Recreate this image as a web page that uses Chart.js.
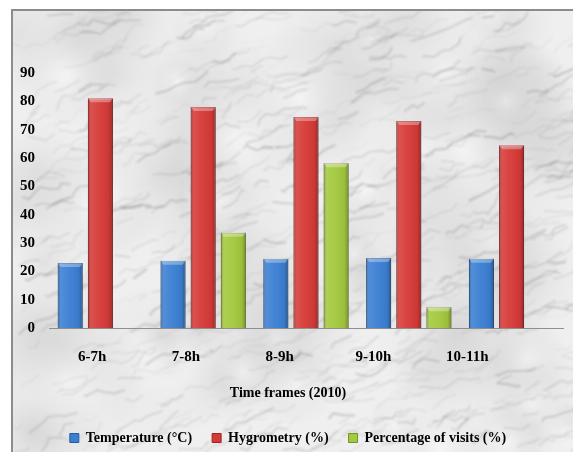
<!DOCTYPE html>
<html>
<head>
<meta charset="utf-8">
<script src="https://cdn.jsdelivr.net/npm/chart.js@4"></script>
<style>
  html, body { margin: 0; padding: 0; background: #fff; }
  body { width: 573px; height: 452px; overflow: hidden; position: relative; }
  #frame {
    position: absolute; left: 11px; top: 9px; width: 562px; height: 443px;
    box-sizing: border-box; border-top: 2px solid #8c8c8c; border-left: 2px solid #8c8c8c;
    overflow: hidden; background-color: #ececec;
  }
  #visitsChart { position: absolute; left: 0; top: 0; }
</style>
</head>
<body>
<div id="frame"><canvas id="visitsChart" width="560" height="444"></canvas></div>
<script>
const timeFrames = ['6-7h', '7-8h', '8-9h', '9-10h', '10-11h'];
const temperature = [23, 23.8, 24.5, 24.8, 24.5];
const hygrometry = [81.1, 78, 74.5, 73.1, 64.5];
const visits = [0, 33.7, 58.2, 7.4, 0];
const yTicks = [0, 90, 10]; // min, max, step

// grey marble look for the background (seeded so it is the same every time)
function marble(w, h) {
    const c = document.createElement('canvas');
    c.width = w; c.height = h;
    const g = c.getContext('2d');
    let s = 12345;
    const rnd = () => { s = (s * 16807) % 2147483647; return s / 2147483647; };
    g.fillStyle = '#efefef';
    g.fillRect(0, 0, w, h);
    for (let i = 0; i < 90; i++) {
        const x = rnd() * w, y = rnd() * h, r = 20 + rnd() * 60;
        const rg = g.createRadialGradient(x, y, 0, x, y, r);
        const light = rnd() < 0.4;
        rg.addColorStop(0, light ? 'rgba(255,255,255,0.5)' : 'rgba(185,185,185,0.25)');
        rg.addColorStop(1, 'rgba(200,200,200,0)');
        g.fillStyle = rg;
        g.fillRect(x - r, y - r, 2 * r, 2 * r);
    }
    g.filter = 'blur(0.8px)';
    for (let i = 0; i < 650; i++) {
        let x = rnd() * w, y = rnd() * h;
        g.beginPath();
        g.moveTo(x, y);
        const n = 2 + Math.floor(rnd() * 6);
        for (let j = 0; j < n; j++) {
            x += 2 + rnd() * 10;
            y -= rnd() * 10 - 2.5;
            g.lineTo(x, y);
        }
        g.strokeStyle = 'rgba(100,100,100,' + (0.05 + rnd() * 0.22).toFixed(2) + ')';
        g.lineWidth = 0.5 + rnd() * 1.8;
        g.stroke();
    }
    return c.toDataURL();
}
document.getElementById('frame').style.backgroundImage = 'url(' + marble(562, 443) + ')';

// bevel / shading drawn over each bar, Excel style
const bevelPlugin = {
    id: 'bevel',
    afterDatasetsDraw(chart) {
        const ctx = chart.ctx;
        chart.data.datasets.forEach((ds, i) => {
            chart.getDatasetMeta(i).data.forEach(bar => {
                const { x, y, base, width } = bar.getProps(['x', 'y', 'base', 'width'], true);
                const h = base - y;
                if (h < 1) return;
                const l = x - width / 2;
                const gr = ctx.createLinearGradient(l, 0, l + width, 0);
                gr.addColorStop(0, 'rgba(0,0,0,0.28)');
                gr.addColorStop(0.12, 'rgba(255,255,255,0.12)');
                gr.addColorStop(0.45, 'rgba(255,255,255,0.04)');
                gr.addColorStop(0.85, 'rgba(0,0,0,0.06)');
                gr.addColorStop(1, 'rgba(0,0,0,0.32)');
                ctx.save();
                ctx.fillStyle = gr;
                ctx.fillRect(l, y, width, h);
                ctx.fillStyle = 'rgba(255,255,255,0.32)';
                ctx.beginPath();
                ctx.moveTo(l, y);
                ctx.lineTo(l + width, y);
                ctx.lineTo(l + width - 3, y + 4);
                ctx.lineTo(l + 3, y + 4);
                ctx.closePath();
                ctx.fill();
                ctx.restore();
            });
        });
    }
};

const serif = 'Liberation Serif';

new Chart(document.getElementById('visitsChart'), {
    type: 'bar',
    data: {
        labels: timeFrames,
        datasets: [
            { label: 'Temperature (°C)', data: temperature, backgroundColor: '#3b7fd3', borderColor: '#2a5b9a' },
            { label: 'Hygrometry (%)', data: hygrometry, backgroundColor: '#d63a37', borderColor: '#9a2625' },
            { label: 'Percentage of visits (%)', data: visits, backgroundColor: '#a3c93d', borderColor: '#75922a' }
        ]
    },
    options: {
        responsive: false,
        animation: false,
        datasets: {
            bar: { barPercentage: 0.83, categoryPercentage: 0.88, borderWidth: 1 }
        },
        layout: { padding: { top: 62, right: 10, left: 0, bottom: 0 } },
        plugins: {
            legend: {
                position: 'bottom',
                weight: 1000,
                labels: {
                    color: '#000',
                    font: { family: serif, size: 14, weight: 'bold' },
                    boxWidth: 9,
                    boxHeight: 9,
                    padding: 20
                }
            },
            title: {
                display: true,
                position: 'bottom',
                weight: 500,
                text: 'Time frames (2010)',
                color: '#000',
                font: { family: serif, size: 14, weight: 'bold' },
                padding: { top: 17, bottom: 9 }
            },
            tooltip: { enabled: false }
        },
        scales: {
            x: {
                weight: 0,
                grid: { display: false, drawTicks: false },
                border: { display: true, color: '#8f8f8f', width: 1 },
                ticks: { display: false },
                afterFit(scale) { scale.height = 0; }
            },
            // the labels in the original sit a little left of the bar groups,
            // so they go on their own axis with a slightly tighter spacing
            xLabels: {
                type: 'linear',
                position: 'bottom',
                weight: 1,
                offset: false,
                bounds: 'data',
                min: -0.46,
                max: 5.02,
                grid: { display: false, drawTicks: false, offset: false },
                border: { display: false },
                afterBuildTicks(scale) {
                    scale.ticks = timeFrames.map((t, i) => ({ value: i }));
                },
                ticks: {
                    autoSkip: false,
                    maxRotation: 0,
                    color: '#000',
                    font: { family: serif, size: 15, weight: 'bold' },
                    padding: 20,
                    callback: (v, i) => timeFrames[i]
                },
                afterFit(scale) { scale.height = 40; }
            },
            y: {
                min: yTicks[0],
                max: yTicks[1],
                grid: { display: false, drawTicks: false },
                border: { display: false },
                ticks: { stepSize: yTicks[2], color: '#000', font: { family: serif, size: 15, weight: 'bold' }, padding: 14 },
                afterFit(scale) { scale.width = 36; }
            }
        }
    },
    plugins: [bevelPlugin]
});
</script>
</body>
</html>
